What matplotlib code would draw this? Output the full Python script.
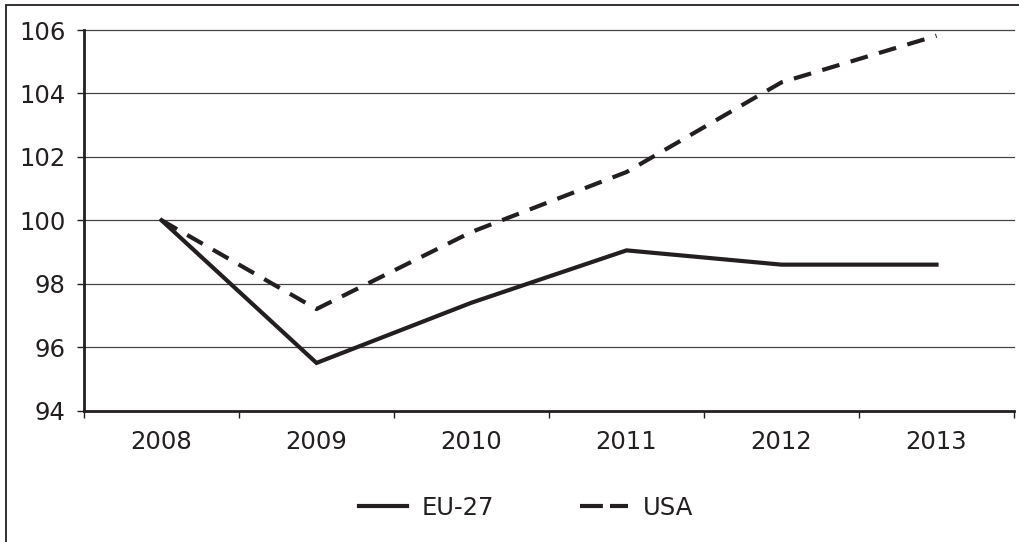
import matplotlib
matplotlib.use("Agg")
import matplotlib.pyplot as plt
from matplotlib.patches import Rectangle
from matplotlib.lines import Line2D
import numpy as np

years = ["2008", "2009", "2010", "2011", "2012", "2013"]
eu27 = [100.0, 95.5, 97.4, 99.05, 98.6, 98.6]
usa = [100.0, 97.2, 99.63, 101.52, 104.35, 105.82]
yticks = [94, 96, 98, 100, 102, 104, 106]

plt.rcParams["font.family"] = ["DejaVu Sans"]
ink = "#231f20"
W, H = 1020, 542

fig = plt.figure(figsize=(W / 100, H / 100), dpi=100)
ax = fig.add_axes([84 / W, 1 - 410.5 / H, (1014 - 84) / W, (410.5 - 30) / H])

# outer frame of the figure (runs off to the right and bottom)
fig.patches.append(Rectangle((6 / W, -0.2), 1.3, 1 - 4.5 / H + 0.2,
                             transform=fig.transFigure, fill=False,
                             edgecolor=ink, lw=1.3))

x = np.arange(len(years))
ax.plot(x, eu27, color=ink, lw=3.0, solid_joinstyle="miter")
ax.plot(x, usa, color=ink, lw=3.0, linestyle=(0, (4.3, 2.8)))

ax.set_xlim(-0.5, len(years) - 0.5)
ax.set_ylim(94, 106)
ax.set_yticks(yticks)
ax.set_yticklabels([str(v) for v in yticks])
for v in yticks[1:]:
    ax.axhline(v, color="#444444", lw=0.9, zorder=0, clip_on=False)

# category boundary ticks, labels centred between them
ax.set_xticks(np.arange(-0.5, len(years), 1.0))
ax.set_xticklabels([])
ax.set_xticks(x, minor=True)
ax.set_xticklabels(years, minor=True)
ax.tick_params(axis="x", which="major", direction="out", length=5, width=1, color=ink)
ax.tick_params(axis="x", which="minor", length=0, pad=14, labelsize=17.5, labelcolor=ink)
ax.tick_params(axis="y", direction="out", length=5, width=1, color=ink,
               pad=8.5, labelsize=17.5, labelcolor=ink)

for s in ["top", "right"]:
    ax.spines[s].set_visible(False)
for s in ["left", "bottom"]:
    ax.spines[s].set_linewidth(2.0)
    ax.spines[s].set_color(ink)

handles = [Line2D([], [], color=ink, lw=3.0),
           Line2D([], [], color=ink, lw=3.0, linestyle=(0, (5.5, 1.7)))]
fig.legend(handles, ["EU-27", "USA"], loc="center", ncol=2,
           bbox_to_anchor=(526 / W, 1 - 508 / H), frameon=False,
           fontsize=17.5, handlelength=2.0, handletextpad=0.6,
           columnspacing=3.5, labelcolor=ink)

fig.savefig("out.png", dpi=100)
